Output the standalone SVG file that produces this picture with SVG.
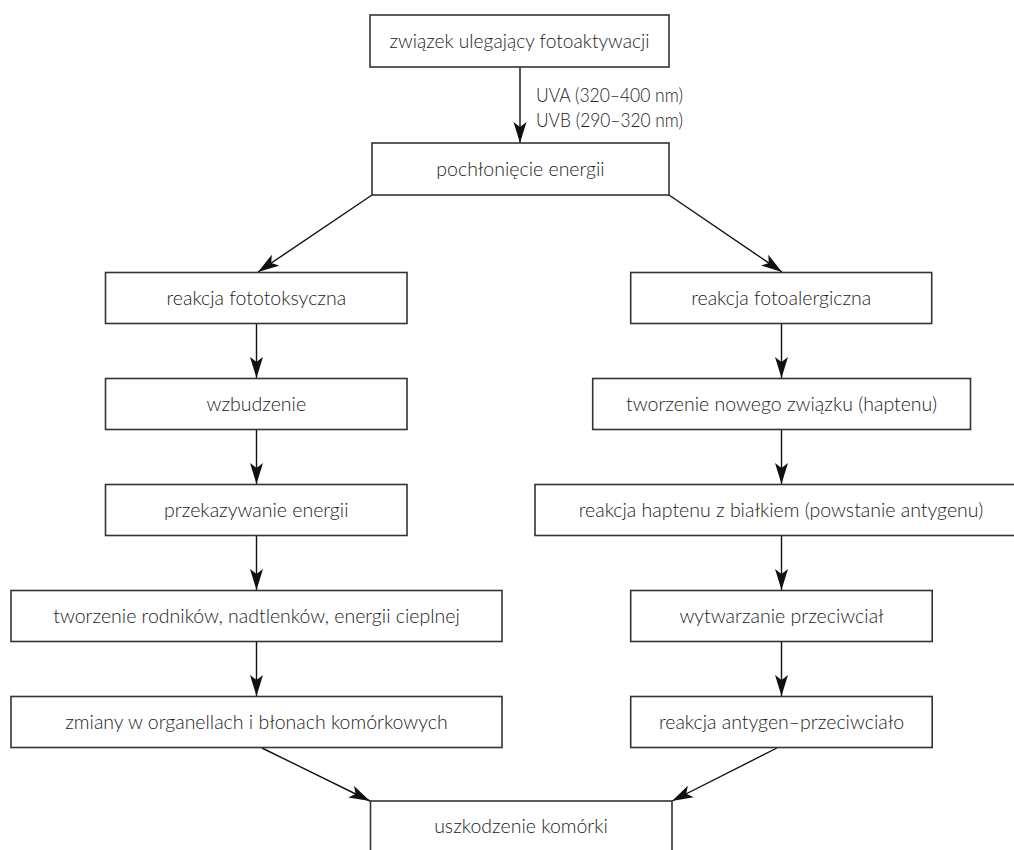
<svg xmlns="http://www.w3.org/2000/svg" width="1014" height="850" viewBox="0 0 1014 850">
<style>
.box rect{fill:#fff;stroke:#333;stroke-width:1.6}
.box text{font-family:Lato,"Liberation Sans",sans-serif;font-size:19.5px;font-weight:300;fill:#222;text-anchor:middle}
.lbl{font-family:Lato,"Liberation Sans",sans-serif;font-size:19.5px;font-weight:300;fill:#222}
#connectors line{stroke:#111;stroke-width:1.4;marker-end:url(#ah)}
</style>
<defs>
<marker id="ah" markerUnits="userSpaceOnUse" markerWidth="22" markerHeight="14" refX="21" refY="6.5" orient="auto" viewBox="0 0 22 13">
<path d="M0,0 L21,6.5 L0,13 L5,6.5 z" fill="#111"/>
</marker>
</defs>
<rect width="1014" height="850" fill="#fff"/>
<g id="connectors">
<line x1="520" y1="67" x2="520" y2="143"/>
<line x1="372" y1="195" x2="258" y2="272"/>
<line x1="669" y1="195" x2="782" y2="272"/>
<line x1="256.5" y1="323" x2="256.5" y2="378"/>
<line x1="256.5" y1="430" x2="256.5" y2="484"/>
<line x1="256.5" y1="536" x2="256.5" y2="590"/>
<line x1="256.5" y1="642" x2="256.5" y2="696"/>
<line x1="781.5" y1="323" x2="781.5" y2="378"/>
<line x1="781.5" y1="430" x2="781.5" y2="484"/>
<line x1="781.5" y1="536" x2="781.5" y2="590"/>
<line x1="781.5" y1="642" x2="781.5" y2="696"/>
<line x1="262" y1="748" x2="370" y2="801"/>
<line x1="777" y1="748" x2="672" y2="801"/>
</g>
<text class="lbl" x="536" y="101.5" textLength="147" lengthAdjust="spacingAndGlyphs">UVA (320–400 nm)</text>
<text class="lbl" x="536" y="127" textLength="147" lengthAdjust="spacingAndGlyphs">UVB (290–320 nm)</text>
<g id="n1" class="box"><rect x="370" y="15" width="299" height="52"/><text x="519.5" y="48" textLength="260" lengthAdjust="spacingAndGlyphs">związek ulegający fotoaktywacji</text></g>
<g id="n2" class="box"><rect x="372" y="143" width="297" height="52"/><text x="520.5" y="175.5">pochłonięcie energii</text></g>
<g id="l1" class="box"><rect x="105.5" y="272.5" width="301.5" height="51"/><text x="256.3" y="304.5">reakcja fototoksyczna</text></g>
<g id="l2" class="box"><rect x="105.5" y="378.5" width="301.5" height="51"/><text x="256.3" y="410.5">wzbudzenie</text></g>
<g id="l3" class="box"><rect x="105.5" y="484.5" width="301.5" height="51"/><text x="256.3" y="516.5">przekazywanie energii</text></g>
<g id="l4" class="box"><rect x="11" y="590.5" width="491" height="51"/><text x="256.5" y="622.5">tworzenie rodników, nadtlenków, energii cieplnej</text></g>
<g id="l5" class="box"><rect x="11" y="696.5" width="491" height="51"/><text x="256.5" y="728.5">zmiany w organellach i błonach komórkowych</text></g>
<g id="r1" class="box"><rect x="630.7" y="272.5" width="301" height="51"/><text x="781.2" y="304.5">reakcja fotoalergiczna</text></g>
<g id="r2" class="box"><rect x="592.7" y="378.5" width="377.8" height="51"/><text x="781.6" y="410.5">tworzenie nowego związku (haptenu)</text></g>
<g id="r3" class="box"><rect x="535" y="484.5" width="494" height="51"/><text x="781" y="516.5">reakcja haptenu z białkiem (powstanie antygenu)</text></g>
<g id="r4" class="box"><rect x="630.7" y="590.5" width="301.5" height="51"/><text x="781.5" y="622.5">wytwarzanie przeciwciał</text></g>
<g id="r5" class="box"><rect x="630.7" y="696.5" width="301.5" height="51"/><text x="781.5" y="728.5">reakcja antygen–przeciwciało</text></g>
<g id="b" class="box"><rect x="370.5" y="801" width="301.5" height="70"/><text x="521" y="832.5">uszkodzenie komórki</text></g>
</svg>
